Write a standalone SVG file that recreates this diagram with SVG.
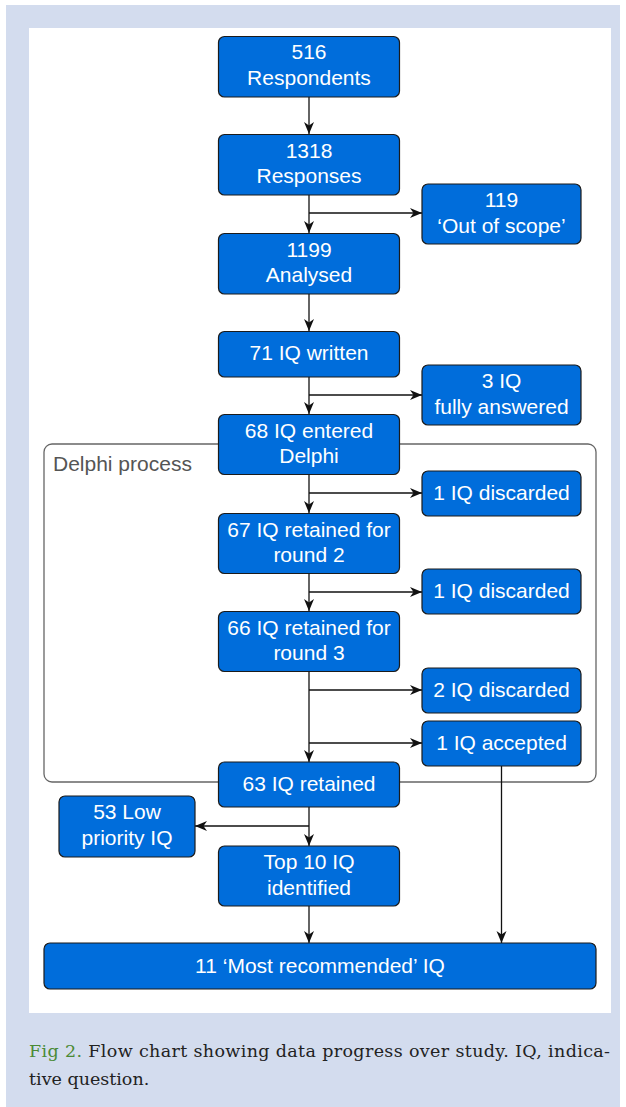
<svg xmlns="http://www.w3.org/2000/svg" width="626" height="1107" viewBox="0 0 626 1107">
<style>
.nb{fill:#006ddb;stroke:#1b1b1b;stroke-width:1.2}
.nt{font-family:"Liberation Sans",Arial,sans-serif;font-size:21px;fill:#ffffff;text-anchor:middle}
.cn{fill:none;stroke:#111;stroke-width:1.3;marker-end:url(#ah)}
.cap{font-family:"DejaVu Serif",serif;font-size:17.5px;fill:#222}
</style>
<defs>
<marker id="ah" markerUnits="userSpaceOnUse" markerWidth="13" markerHeight="11" refX="12" refY="5" orient="auto">
<path d="M0,0 L12,5 L0,10 L3.5,5 Z" fill="#111"/>
</marker>
</defs>
<rect x="0" y="0" width="626" height="1107" fill="#ffffff"/>
<rect x="6" y="5" width="614" height="1102" fill="#d3dcee"/>
<rect x="29" y="28" width="582" height="985" fill="#ffffff"/>

<g id="delphi-group">
<rect x="44" y="444" width="552" height="338" rx="8" fill="none" stroke="#666" stroke-width="1.3"/>
<text x="53" y="471" style="font-family:'Liberation Sans',Arial,sans-serif;font-size:21px;fill:#555">Delphi process</text>
</g>

<g id="connectors">
<path class="cn" d="M309,97 V134"/>
<path class="cn" d="M309,195 V233"/>
<path class="cn" d="M309,213 H422"/>
<path class="cn" d="M309,294 V331"/>
<path class="cn" d="M309,377 V414"/>
<path class="cn" d="M309,395 H422"/>
<path class="cn" d="M309,474 V513"/>
<path class="cn" d="M309,493 H422"/>
<path class="cn" d="M309,573 V611"/>
<path class="cn" d="M309,592 H422"/>
<path class="cn" d="M309,671 V762"/>
<path class="cn" d="M309,690 H422"/>
<path class="cn" d="M309,743 H422"/>
<path class="cn" d="M309,807 V846"/>
<path class="cn" d="M309,826 H195"/>
<path class="cn" d="M309,906 V943"/>
<path class="cn" d="M501.5,766 V943"/>
</g>

<g id="n-respondents">
<rect class="nb" x="218.5" y="36.5" width="181" height="60.5" rx="6"/>
<text class="nt" x="309" y="59">516</text>
<text class="nt" x="309" y="85">Respondents</text>
</g>
<g id="n-responses">
<rect class="nb" x="218.5" y="134.5" width="181" height="60.5" rx="6"/>
<text class="nt" x="309" y="157.5">1318</text>
<text class="nt" x="309" y="183">Responses</text>
</g>
<g id="n-outofscope">
<rect class="nb" x="422" y="184" width="159" height="60" rx="6"/>
<text class="nt" x="501.5" y="207">119</text>
<text class="nt" x="501.5" y="232.5">‘Out of scope’</text>
</g>
<g id="n-analysed">
<rect class="nb" x="218.5" y="233.5" width="181" height="60.5" rx="6"/>
<text class="nt" x="309" y="256.5">1199</text>
<text class="nt" x="309" y="282">Analysed</text>
</g>
<g id="n-written">
<rect class="nb" x="218.5" y="331.5" width="181" height="45.5" rx="6"/>
<text class="nt" x="309" y="360">71 IQ written</text>
</g>
<g id="n-answered">
<rect class="nb" x="422" y="365" width="159" height="60" rx="6"/>
<text class="nt" x="501.5" y="388">3 IQ</text>
<text class="nt" x="501.5" y="413.5">fully answered</text>
</g>
<g id="n-entered">
<rect class="nb" x="218.5" y="414.5" width="181" height="60" rx="6"/>
<text class="nt" x="309" y="437.5">68 IQ entered</text>
<text class="nt" x="309" y="463">Delphi</text>
</g>
<g id="n-discarded1">
<rect class="nb" x="422" y="471" width="159" height="45" rx="6"/>
<text class="nt" x="501.5" y="499.5">1 IQ discarded</text>
</g>
<g id="n-round2">
<rect class="nb" x="218.5" y="513.5" width="181" height="60" rx="6"/>
<text class="nt" x="309" y="536.5">67 IQ retained for</text>
<text class="nt" x="309" y="562">round 2</text>
</g>
<g id="n-discarded2">
<rect class="nb" x="422" y="569" width="159" height="45" rx="6"/>
<text class="nt" x="501.5" y="597.5">1 IQ discarded</text>
</g>
<g id="n-round3">
<rect class="nb" x="218.5" y="611.5" width="181" height="60" rx="6"/>
<text class="nt" x="309" y="634.5">66 IQ retained for</text>
<text class="nt" x="309" y="660">round 3</text>
</g>
<g id="n-discarded3">
<rect class="nb" x="422" y="668" width="159" height="45" rx="6"/>
<text class="nt" x="501.5" y="696.5">2 IQ discarded</text>
</g>
<g id="n-accepted">
<rect class="nb" x="422" y="721" width="159" height="45" rx="6"/>
<text class="nt" x="501.5" y="749.5">1 IQ accepted</text>
</g>
<g id="n-retained">
<rect class="nb" x="218.5" y="762" width="181" height="45" rx="6"/>
<text class="nt" x="309" y="790.5">63 IQ retained</text>
</g>
<g id="n-lowpriority">
<rect class="nb" x="59" y="796" width="136" height="61" rx="6"/>
<text class="nt" x="127" y="819">53 Low</text>
<text class="nt" x="127" y="845">priority IQ</text>
</g>
<g id="n-top10">
<rect class="nb" x="218.5" y="846" width="181" height="60" rx="6"/>
<text class="nt" x="309" y="869">Top 10 IQ</text>
<text class="nt" x="309" y="894.5">identified</text>
</g>
<g id="n-most">
<rect class="nb" x="44" y="943" width="552" height="46" rx="6"/>
<text class="nt" x="320" y="972.5">11 ‘Most recommended’ IQ</text>
</g>

<g id="caption">
<text class="cap" x="29" y="1057" textLength="581" lengthAdjust="spacing"><tspan fill="#4a8a35">Fig 2.</tspan> Flow chart showing data progress over study. IQ, indica-</text>
<text class="cap" x="29" y="1085">tive question.</text>
</g>
</svg>
